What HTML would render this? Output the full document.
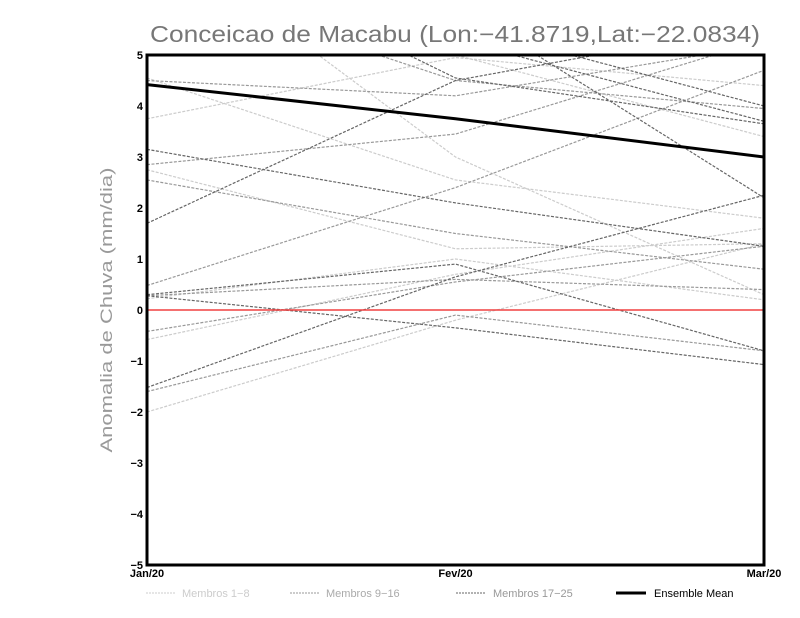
<!DOCTYPE html>
<html><head><meta charset="utf-8"><style>
html,body{margin:0;padding:0;background:#fff;}
svg{display:block;font-family:"Liberation Sans",sans-serif;}
</style></head><body>
<svg id="chart" width="800" height="618" viewBox="0 0 800 618" xmlns="http://www.w3.org/2000/svg">
<defs><clipPath id="plotclip"><rect x="147" y="55" width="617" height="510"/></clipPath></defs>
<text x="150" y="42" font-size="23" fill="#777" textLength="610" lengthAdjust="spacingAndGlyphs">Conceicao de Macabu (Lon:−41.8719,Lat:−22.0834)</text>
<text transform="translate(112,310) rotate(-90)" text-anchor="middle" font-size="17" fill="#999" textLength="285" lengthAdjust="spacingAndGlyphs">Anomalia de Chuva (mm/dia)</text>
<g id="series" clip-path="url(#plotclip)"></g>
<g id="axes"></g>
<g id="legend" font-size="11">
<line x1="146" y1="593" x2="176" y2="593" stroke="#ccc" stroke-dasharray="2,1"/>
<text x="182" y="597" fill="#ccc">Membros 1−8</text>
<line x1="290" y1="593" x2="320" y2="593" stroke="#999" stroke-dasharray="2,1"/>
<text x="326" y="597" fill="#aaa">Membros 9−16</text>
<line x1="456" y1="593" x2="486" y2="593" stroke="#666" stroke-dasharray="2,1"/>
<text x="493" y="597" fill="#999">Membros 17−25</text>
<line x1="616" y1="593" x2="646" y2="593" stroke="#000" stroke-width="3"/>
<text x="654" y="597" fill="#000">Ensemble Mean</text>
</g>
</svg>
<script>
const categories = ["Jan/20","Fev/20","Mar/20"];
const yTicks = [-5,-4,-3,-2,-1,0,1,2,3,4,5];
const group1 = [[4.55,2.55,1.8],[3.75,4.95,4.4],[2.75,1.2,1.3],[-0.58,0.7,1.6],[-2.0,-0.2,1.3],[0.22,1.0,0.2],[6.5,5.0,3.4],[7.5,3.0,0.3]];
const group2 = [[4.5,4.2,5.2],[0.48,2.4,4.7],[2.55,1.5,0.8],[0.28,0.6,0.4],[-0.42,0.55,1.25],[-1.6,-0.1,-0.8],[6.5,4.5,3.95],[2.85,3.45,5.3]];
const group3 = [[3.15,2.1,1.25],[1.7,4.5,5.6],[-1.52,0.65,2.25],[0.28,-0.35,-1.07],[7.5,4.55,3.65],[5.8,5.3,3.7],[0.3,0.9,-0.8],[8,5.6,4.0],[9,6,2.2]];
const ensembleMean = [4.42,3.75,3.0];
const X0=147,X1=764,Y0=565,Y1=55;
function xs(i){return X0+(X1-X0)*i/(categories.length-1);}
function ys(v){return Y0-(v+5)/10*(Y0-Y1);}
const NS="http://www.w3.org/2000/svg";
const series=document.getElementById('series');
function poly(vals,color,dash,w,name){
  const p=document.createElementNS(NS,'polyline');
  p.setAttribute('points',vals.map((v,i)=>xs(i)+','+ys(v)).join(' '));
  p.setAttribute('fill','none');p.setAttribute('stroke',color);p.setAttribute('stroke-width',w);
  if(dash)p.setAttribute('stroke-dasharray',dash);
  
  
  series.appendChild(p);
}
group1.forEach((m,i)=>poly(m,'#ccc','3,1.5',1.2,'member-line-'+(i+1)));
group2.forEach((m,i)=>poly(m,'#999','3,1.5',1.2,'member-line-'+(i+9)));
group3.forEach((m,i)=>poly(m,'#666','3,1.5',1.2,'member-line-'+(i+17)));
const zl=document.createElementNS(NS,'line');
zl.setAttribute('x1',X0);zl.setAttribute('x2',X1);zl.setAttribute('y1',ys(0));zl.setAttribute('y2',ys(0));
zl.setAttribute('stroke','#f04040');zl.setAttribute('stroke-width','1.5');


series.appendChild(zl);
poly(ensembleMean,'#000',null,3,'ensemble-mean-line');
const axes=document.getElementById('axes');
const fr=document.createElementNS(NS,'rect');
fr.setAttribute('x',X0);fr.setAttribute('y',Y1);fr.setAttribute('width',X1-X0);fr.setAttribute('height',Y0-Y1);
fr.setAttribute('fill','none');fr.setAttribute('stroke','#000');fr.setAttribute('stroke-width','3');


axes.appendChild(fr);
yTicks.forEach(t=>{
  const tx=document.createElementNS(NS,'text');
  tx.setAttribute('x',X0-4);tx.setAttribute('y',ys(t)+4);tx.setAttribute('text-anchor','end');
  tx.setAttribute('font-size','11');tx.setAttribute('font-weight','bold');
  tx.textContent=(t<0?'−':'')+Math.abs(t);
  
  
  axes.appendChild(tx);
});
categories.forEach((c,i)=>{
  const tx=document.createElementNS(NS,'text');
  tx.setAttribute('x',xs(i));tx.setAttribute('y',Y0+12);tx.setAttribute('text-anchor','middle');
  tx.setAttribute('font-size','11');tx.setAttribute('font-weight','bold');
  tx.textContent=c;
  
  
  axes.appendChild(tx);
});
</script>
</body></html>
